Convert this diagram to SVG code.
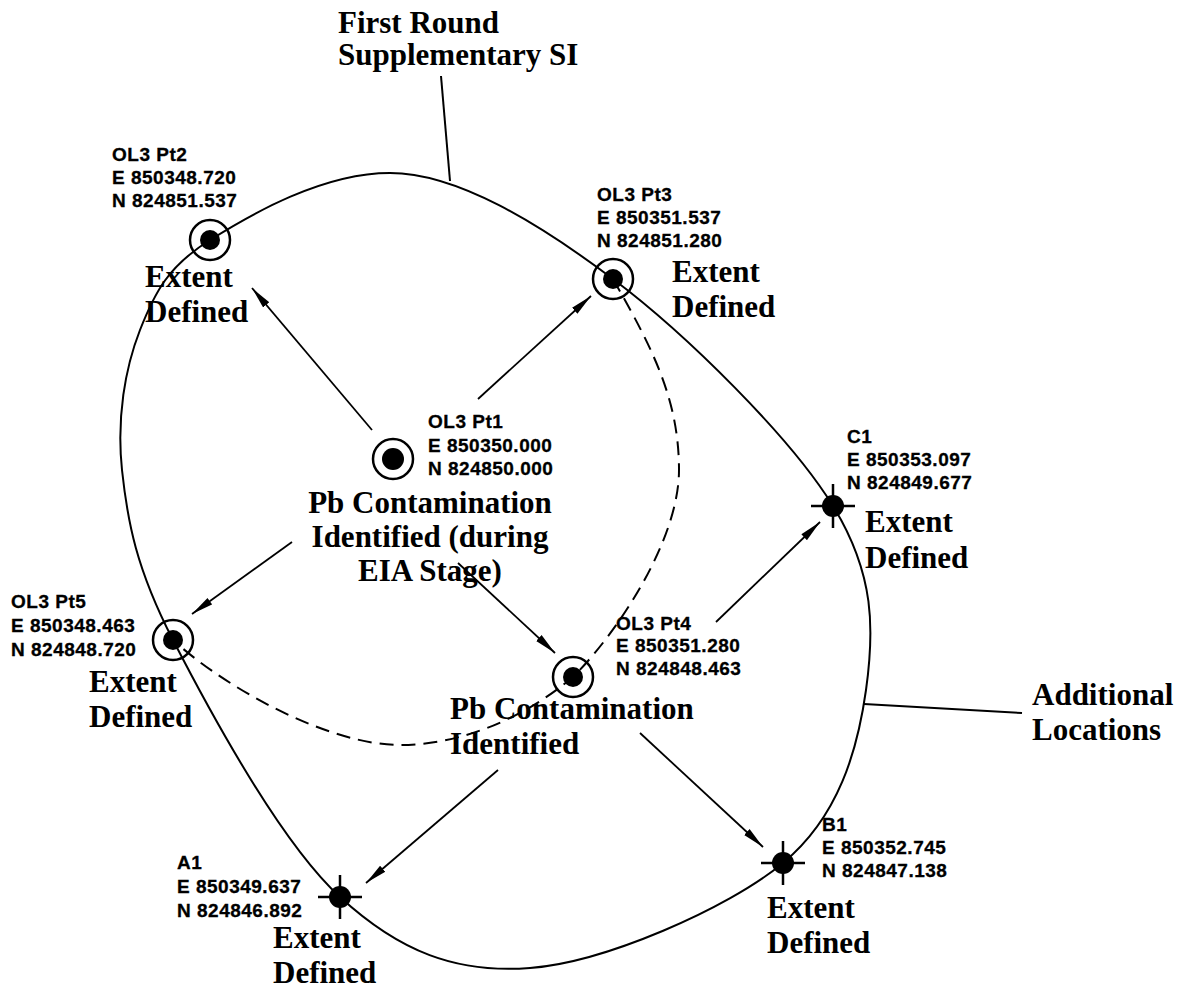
<svg xmlns="http://www.w3.org/2000/svg" width="1181" height="990" viewBox="0 0 1181 990">
<defs>
<style>
.lbl{font-family:"Liberation Serif","Times New Roman",serif;font-weight:bold;font-size:31px;fill:#000}
.crd{font-family:"Liberation Sans",Arial,sans-serif;font-weight:bold;font-size:19px;letter-spacing:0.5px;fill:#000;stroke:#000;stroke-width:0.3}
.ln{fill:none;stroke:#000;stroke-width:2}
.dash{fill:none;stroke:#000;stroke-width:2;stroke-dasharray:14 8}
.arr{fill:none;stroke:#000;stroke-width:1.8;marker-end:url(#ah)}
.ring{fill:none;stroke:#000;stroke-width:2.5}
.dot{fill:#000}
.cross{stroke:#000;stroke-width:2.5}
</style>
<marker id="ah" markerUnits="userSpaceOnUse" markerWidth="22" markerHeight="10" viewBox="0 0 22 10" refX="22" refY="5" orient="auto">
<path d="M0,1 L22,5 L0,9 z" fill="#000"/>
</marker>
</defs>
<rect width="1181" height="990" fill="#fff"/>

<g id="connectors">
<path id="outer-loop" class="ln" d="M210,240 C251.7,213.8 322.8,173 390,173 C457,173 539.2,223.5 613,279 C686.8,334.5 790.8,437.5 833,506 C875.2,574.5 874.3,630.5 866,690 C857.7,749.5 839,816.7 783,863 C727,909.3 603.8,962.3 530,968 C456.2,973.7 399.5,951.7 340,897 C280.5,842.3 209.7,711.2 173,640 C136.3,568.8 127.5,521.7 122,470 C116.5,418.3 125,368.3 140,330 C155,291.7 168.3,266.2 210,240 Z"/>
<path id="first-round-dashed" class="dash" d="M613,279 C653,349 679,400 679,470 C679,540 618,632 573,677 C523,719 460,745 400,745 C330,745 228,690 173,640"/>
<line class="ln" x1="441" y1="76" x2="450" y2="181"/>
<line class="ln" x1="864" y1="704" x2="1022" y2="713"/>
<line class="arr" x1="372" y1="430" x2="252" y2="288"/>
<line class="arr" x1="478" y1="399" x2="591" y2="296"/>
<line class="arr" x1="292" y1="542" x2="192" y2="614"/>
<line class="arr" x1="458" y1="563" x2="555" y2="653"/>
<line class="arr" x1="716" y1="622" x2="820" y2="522"/>
<line class="arr" x1="498" y1="770" x2="366" y2="883"/>
<line class="arr" x1="640" y1="733" x2="763" y2="847"/>
</g>

<g id="label-first-round">
<text class="lbl" x="338" y="33">First Round</text>
<text class="lbl" x="338" y="65">Supplementary SI</text>
</g>
<g id="label-additional">
<text class="lbl" x="1032" y="705">Additional</text>
<text class="lbl" x="1032" y="740">Locations</text>
</g>

<g id="node-pt1">
<circle class="ring" cx="393" cy="459" r="20"/>
<circle class="dot" cx="393" cy="459" r="11"/>
<text class="crd" x="428" y="428">OL3 Pt1</text>
<text class="crd" x="428" y="452">E 850350.000</text>
<text class="crd" x="428" y="475">N 824850.000</text>
<text class="lbl" x="430" y="513" text-anchor="middle">Pb Contamination</text>
<text class="lbl" x="430" y="547" text-anchor="middle">Identified (during</text>
<text class="lbl" x="430" y="581" text-anchor="middle">EIA Stage)</text>
</g>

<g id="node-pt2">
<circle class="ring" cx="210" cy="240" r="20"/>
<circle class="dot" cx="210" cy="240" r="10"/>
<text class="crd" x="112" y="161">OL3 Pt2</text>
<text class="crd" x="112" y="184">E 850348.720</text>
<text class="crd" x="112" y="207">N 824851.537</text>
<text class="lbl" x="145" y="287">Extent</text>
<text class="lbl" x="145" y="322">Defined</text>
</g>

<g id="node-pt3">
<circle class="ring" cx="613" cy="279" r="20"/>
<circle class="dot" cx="613" cy="279" r="10"/>
<text class="crd" x="597" y="201">OL3 Pt3</text>
<text class="crd" x="597" y="224">E 850351.537</text>
<text class="crd" x="597" y="247">N 824851.280</text>
<text class="lbl" x="672" y="282">Extent</text>
<text class="lbl" x="672" y="317">Defined</text>
</g>

<g id="node-pt4">
<circle class="ring" cx="573" cy="677" r="20"/>
<circle class="dot" cx="573" cy="677" r="10"/>
<text class="crd" x="616" y="630">OL3 Pt4</text>
<text class="crd" x="616" y="652">E 850351.280</text>
<text class="crd" x="616" y="675">N 824848.463</text>
<text class="lbl" x="450" y="719">Pb Contamination</text>
<text class="lbl" x="450" y="754">Identified</text>
</g>

<g id="node-pt5">
<circle class="ring" cx="173" cy="640" r="20"/>
<circle class="dot" cx="173" cy="640" r="10"/>
<text class="crd" x="11" y="608">OL3 Pt5</text>
<text class="crd" x="11" y="632">E 850348.463</text>
<text class="crd" x="11" y="656">N 824848.720</text>
<text class="lbl" x="89" y="692">Extent</text>
<text class="lbl" x="89" y="727">Defined</text>
</g>

<g id="node-c1">
<line class="cross" x1="811" y1="506" x2="855" y2="506"/>
<line class="cross" x1="833" y1="484" x2="833" y2="528"/>
<circle class="dot" cx="833" cy="506" r="11"/>
<text class="crd" x="847" y="443">C1</text>
<text class="crd" x="847" y="466">E 850353.097</text>
<text class="crd" x="847" y="489">N 824849.677</text>
<text class="lbl" x="865" y="532">Extent</text>
<text class="lbl" x="865" y="568">Defined</text>
</g>

<g id="node-b1">
<line class="cross" x1="761" y1="863" x2="805" y2="863"/>
<line class="cross" x1="783" y1="841" x2="783" y2="885"/>
<circle class="dot" cx="783" cy="863" r="11"/>
<text class="crd" x="822" y="831">B1</text>
<text class="crd" x="822" y="854">E 850352.745</text>
<text class="crd" x="822" y="877">N 824847.138</text>
<text class="lbl" x="767" y="918">Extent</text>
<text class="lbl" x="767" y="953">Defined</text>
</g>

<g id="node-a1">
<line class="cross" x1="318" y1="897" x2="362" y2="897"/>
<line class="cross" x1="340" y1="875" x2="340" y2="919"/>
<circle class="dot" cx="340" cy="897" r="11"/>
<text class="crd" x="177" y="869">A1</text>
<text class="crd" x="177" y="893">E 850349.637</text>
<text class="crd" x="177" y="917">N 824846.892</text>
<text class="lbl" x="273" y="948">Extent</text>
<text class="lbl" x="273" y="983">Defined</text>
</g>
</svg>
